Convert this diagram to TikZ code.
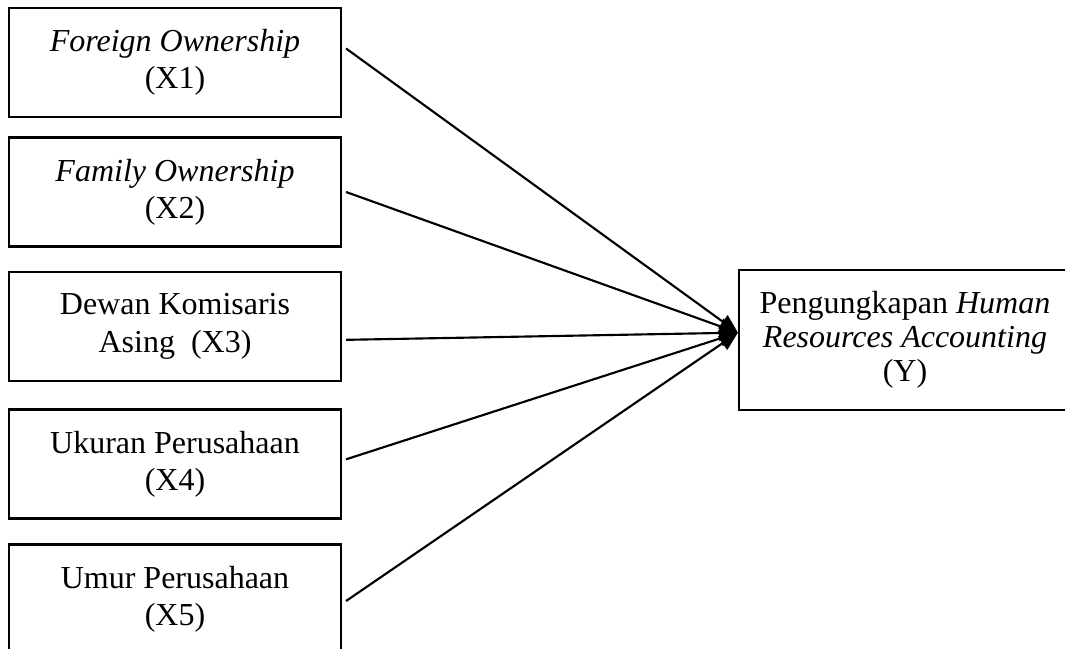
\documentclass[tikz,border=0pt]{standalone}
\usepackage{fontspec}
\setmainfont{Liberation Serif}
\usetikzlibrary{arrows.meta}

\tikzset{
	kotak/.style={draw=black, line width=1.6pt, minimum width=249pt, minimum height=81.75pt,
		align=center, inner sep=0pt, font=\fontsize{24}{28}\selectfont},
	panah/.style={black, line width=1.6pt, -{Triangle[length=14pt,width=12pt]}}
}

\begin{document}
\begin{tikzpicture}[x=0.75pt,y=-0.75pt]
%Rahmen
\useasboundingbox (0,0) rectangle (1065,649);

\node[kotak] (x1) at (175,62.5) {\textit{Foreign Ownership}\\(X1)};
\node[kotak] (x2) at (175,192) {\textit{Family Ownership}\\(X2)};
\node[kotak] (x3) at (175,326.5) {Dewan Komisaris\\Asing~ (X3)};
\node[kotak] (x4) at (175,464) {Ukuran Perusahaan\\(X4)};
\node[kotak] (x5) at (175,599) {Umur Perusahaan\\(X5)};
\node[kotak, minimum height=105pt, font=\fontsize{24}{25.5}\selectfont] (y) at (905,340) {Pengungkapan \textit{Human}\\\textit{Resources Accounting}\\(Y)};

\coordinate (ujung) at ([yshift=5.5pt]y.west);

\draw [panah] ([shift={(3pt,10.5pt)}]x1.east)--(ujung);
\draw [panah] ([shift={(3pt,0pt)}]x2.east)--(ujung);
\draw [panah] ([shift={(3pt,-10pt)}]x3.east)--(ujung);
\draw [panah] ([shift={(3pt,3.5pt)}]x4.east)--(ujung);
\draw [panah] ([shift={(3pt,-1.5pt)}]x5.east)--(ujung);
\end{tikzpicture}
\end{document}
